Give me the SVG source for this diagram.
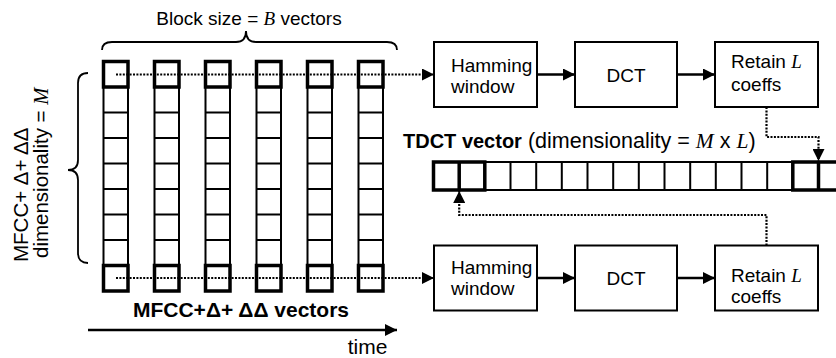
<svg xmlns="http://www.w3.org/2000/svg" width="836" height="358" viewBox="0 0 836 358">
<style>
text{font-family:"Liberation Sans",Arial,sans-serif;font-size:19px;fill:#000}
.b{font-weight:bold;font-size:20px}
.v{font-family:"Liberation Serif","Times New Roman",serif;font-style:italic}
.big{font-size:20.5px}
.box{fill:#fff;stroke:#000;stroke-width:2}
.cell{fill:#fff;stroke:#000;stroke-width:2}
.thick{fill:none;stroke:#000;stroke-width:3.5}
.dot{fill:none;stroke:#000;stroke-width:2.2;stroke-dasharray:2 1.4}
.solid{fill:none;stroke:#000;stroke-width:2.5}
.brace{fill:none;stroke:#000;stroke-width:1.8}
</style>
<defs>
<marker id="ah" viewBox="0 0 12 12" refX="12" refY="6" markerWidth="12" markerHeight="12" markerUnits="userSpaceOnUse" orient="auto"><path d="M0,0 L12,6 L0,12 z" fill="#000"/></marker>
<g id="col">
<rect class="cell" x="0" y="0" width="24.5" height="229.5"/>
<path d="M0,25.5 H24.5 M0,51 H24.5 M0,76.5 H24.5 M0,102 H24.5 M0,127.5 H24.5 M0,153 H24.5 M0,178.5 H24.5 M0,204 H24.5" stroke="#000" stroke-width="2"/>
<rect class="thick" x="0" y="0" width="24.5" height="25.5"/>
<rect class="thick" x="0" y="204" width="24.5" height="25.5"/>
</g>
</defs>

<g id="grid">
<use href="#col" x="103.5" y="61.5"/>
<use href="#col" x="154.5" y="61.5"/>
<use href="#col" x="205.5" y="61.5"/>
<use href="#col" x="256.5" y="61.5"/>
<use href="#col" x="307.5" y="61.5"/>
<use href="#col" x="358.5" y="61.5"/>
</g>

<g id="labels">
<text x="249" y="25" text-anchor="middle">Block size = <tspan class="v">B</tspan> vectors</text>
<path class="brace" d="M102,50 Q102,42 112,42 H236 Q246,42 246,31 Q246,42 256,42 H387 Q397,42 397,50"/>
<path class="brace" d="M88,73 Q78,73 78,83 V160 Q78,170 68,170 Q78,170 78,180 V253 Q78,263 88,263"/>
<text class="big" transform="translate(28,262) rotate(-90)">MFCC+ Δ+ ΔΔ</text>
<text class="big" transform="translate(47.5,258) rotate(-90)">dimensionality = <tspan class="v">M</tspan></text>
<text class="b" x="241" y="317" text-anchor="middle" style="font-size:21px">MFCC+Δ+ ΔΔ vectors</text>
<text x="367.5" y="354" text-anchor="middle" style="font-size:21px">time</text>
</g>

<g id="ham1"><rect class="box" x="434" y="42" width="103" height="65"/><text x="451" y="71.5">Hamming</text><text x="451" y="93">window</text></g>
<g id="dct1"><rect class="box" x="575" y="42" width="102" height="65"/><text x="626" y="81.5" text-anchor="middle">DCT</text></g>
<g id="ret1"><rect class="box" x="715" y="42" width="103" height="65"/><text x="731" y="68">Retain <tspan class="v">L</tspan></text><text x="731" y="90.5">coeffs</text></g>

<g id="ham2"><rect class="box" x="434" y="245.5" width="103" height="65"/><text x="451" y="273.5">Hamming</text><text x="451" y="295">window</text></g>
<g id="dct2"><rect class="box" x="575" y="245.5" width="102" height="65"/><text x="626" y="285" text-anchor="middle">DCT</text></g>
<g id="ret2"><rect class="box" x="715" y="245.5" width="103" height="65"/><text x="731" y="281.5">Retain <tspan class="v">L</tspan></text><text x="731" y="303">coeffs</text></g>

<g id="tdct">
<text x="403" y="148" style="font-size:21.5px"><tspan class="b">TDCT vector</tspan> (dimensionality = <tspan class="v">M</tspan> x <tspan class="v">L</tspan>)</text>
<rect class="cell" x="433.5" y="162" width="412" height="28"/>
<path stroke="#000" stroke-width="2" d="M459.2,162V190 M484.8,162V190 M510.5,162V190 M536.2,162V190 M561.8,162V190 M587.5,162V190 M613.2,162V190 M638.8,162V190 M664.5,162V190 M690.2,162V190 M715.8,162V190 M741.5,162V190 M767.2,162V190 M792.8,162V190 M818.5,162V190"/>
<rect class="thick" x="433.5" y="162" width="51.3" height="28"/>
<path class="thick" d="M459.2,162V190"/>
<rect class="thick" x="792.8" y="162" width="51.3" height="28"/>
<path class="thick" d="M818.5,162V190"/>
</g>

<g id="connectors">
<path class="dot" d="M116,74.5 H434" marker-end="url(#ah)"/>
<path class="dot" d="M116,278 H434" marker-end="url(#ah)"/>
<path class="solid" d="M537,74.5 H575" marker-end="url(#ah)"/>
<path class="solid" d="M677,74.5 H715" marker-end="url(#ah)"/>
<path class="solid" d="M537,278 H575" marker-end="url(#ah)"/>
<path class="solid" d="M677,278 H715" marker-end="url(#ah)"/>
<path class="dot" d="M766.5,107 V137 H818.5 V161" marker-end="url(#ah)"/>
<path class="dot" d="M766.5,245.5 V215 H459.2 V191" marker-end="url(#ah)"/>
<path class="solid" d="M88,330 H397" marker-end="url(#ah)"/>
</g>
</svg>
